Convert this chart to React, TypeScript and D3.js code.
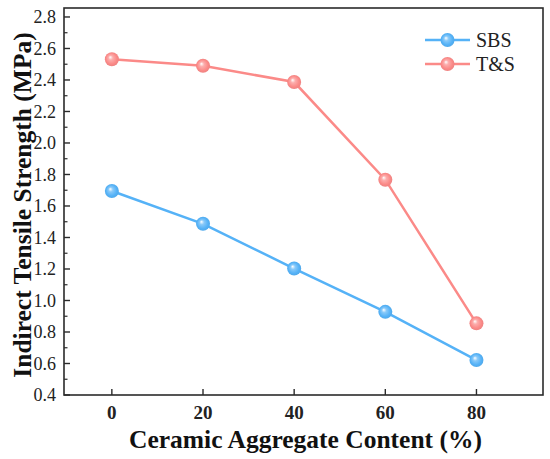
import * as d3 from 'd3'
import React from 'react'

const contents = [0, 20, 40, 60, 80]
const sbs = [1.695, 1.487, 1.203, 0.928, 0.622]
const ts = [2.532, 2.49, 2.387, 1.767, 0.855]
const seriesNames = ['SBS', 'T&S']
const seriesColors = ['#55b2f7', '#fb8a88']
const yTicks = [0.4, 0.6, 0.8, 1.0, 1.2, 1.4, 1.6, 1.8, 2.0, 2.2, 2.4, 2.6, 2.8]

const W = 550
const H = 459
const left = 64
const right = 543
const top = 8
const bottom = 395
const font = "'Liberation Serif', Tinos, 'Times New Roman', 'DejaVu Serif', serif"

const Marker = ({ cx, cy, id }) => <circle cx={cx} cy={cy} r={7} fill={`url(#${id})`} />

const App = () => {
  const x = d3.scaleLinear().domain([-10.5, 94.6]).range([left, right])
  const y = d3.scaleLinear().domain([0.4, 2.857]).range([bottom, top])
  const line = d3
    .line<number>()
    .x((_, i) => x(contents[i]))
    .y((d) => y(d))
  const minor = d3.range(0.5, 2.81, 0.2)
  const series = [sbs, ts]

  return (
    <svg width={W} height={H} style={{ position: 'absolute', left: 0, top: 0, fontFamily: font }}>
      <defs>
        {seriesColors.map((c, i) => (
          <radialGradient key={i} id={`g${i}`} cx="50%" cy="50%" r="55%" fx="38%" fy="35%">
            <stop offset="0%" stopColor="#ffffff" />
            <stop offset="30%" stopColor={d3.interpolateRgb('#ffffff', c)(0.7)} />
            <stop offset="70%" stopColor={c} />
            <stop offset="100%" stopColor={d3.color(c).darker(0.2).toString()} />
          </radialGradient>
        ))}
      </defs>
      <rect x={0} y={0} width={W} height={H} fill="white" />

      {series.map((s, si) => (
        <g key={si}>
          <path d={line(s)} fill="none" stroke={seriesColors[si]} strokeWidth={2.5} />
          {s.map((v, i) => (
            <Marker key={i} cx={x(contents[i])} cy={y(v)} id={`g${si}`} />
          ))}
        </g>
      ))}

      {/* frame */}
      <rect x={left} y={top} width={right - left} height={bottom - top} fill="none" stroke="#2b2b2b" strokeWidth={1.6} />

      {/* y ticks */}
      {yTicks.map((t) => (
        <g key={t}>
          <line x1={left} x2={left + 6} y1={y(t)} y2={y(t)} stroke="#2b2b2b" strokeWidth={1.4} />
          <text x={left - 8} y={y(t)} dy="0.35em" textAnchor="end" style={{ fontFamily: font }} fontSize={18} fill="#222">
            {d3.format('.1f')(t)}
          </text>
        </g>
      ))}
      {minor.map((t) => (
        <line key={t} x1={left} x2={left + 3.5} y1={y(t)} y2={y(t)} stroke="#2b2b2b" strokeWidth={1.2} />
      ))}

      {/* x ticks */}
      {contents.map((c) => (
        <g key={c}>
          <line x1={x(c)} x2={x(c)} y1={bottom} y2={bottom - 6} stroke="#2b2b2b" strokeWidth={1.4} />
          <text x={x(c)} y={bottom + 24} textAnchor="middle" style={{ fontFamily: font }} fontSize={19} fontWeight="bold" fill="#222">
            {c}
          </text>
        </g>
      ))}

      <text x={(left + right) / 2 + 2} y={448} textAnchor="middle" style={{ fontFamily: font }} fontSize={25.5} fontWeight="bold" fill="#111">
        Ceramic Aggregate Content (%)
      </text>
      <text
        transform={`translate(31 205) rotate(-90)`}
        textAnchor="middle"
        style={{ fontFamily: font }}
        fontSize={25.5}
        fontWeight="bold"
        fill="#111"
      >
        Indirect Tensile Strength (MPa)
      </text>

      {/* legend */}
      {seriesNames.map((n, i) => (
        <g key={n} transform={`translate(0 ${40 + i * 24})`}>
          <line x1={425} x2={470} y1={0} y2={0} stroke={seriesColors[i]} strokeWidth={2.5} />
          <Marker cx={447.5} cy={0} id={`g${i}`} />
          <text x={476} y={0} dy="0.35em" style={{ fontFamily: font }} fontSize={20} fill="#222">
            {n}
          </text>
        </g>
      ))}
    </svg>
  )
}

export default App
